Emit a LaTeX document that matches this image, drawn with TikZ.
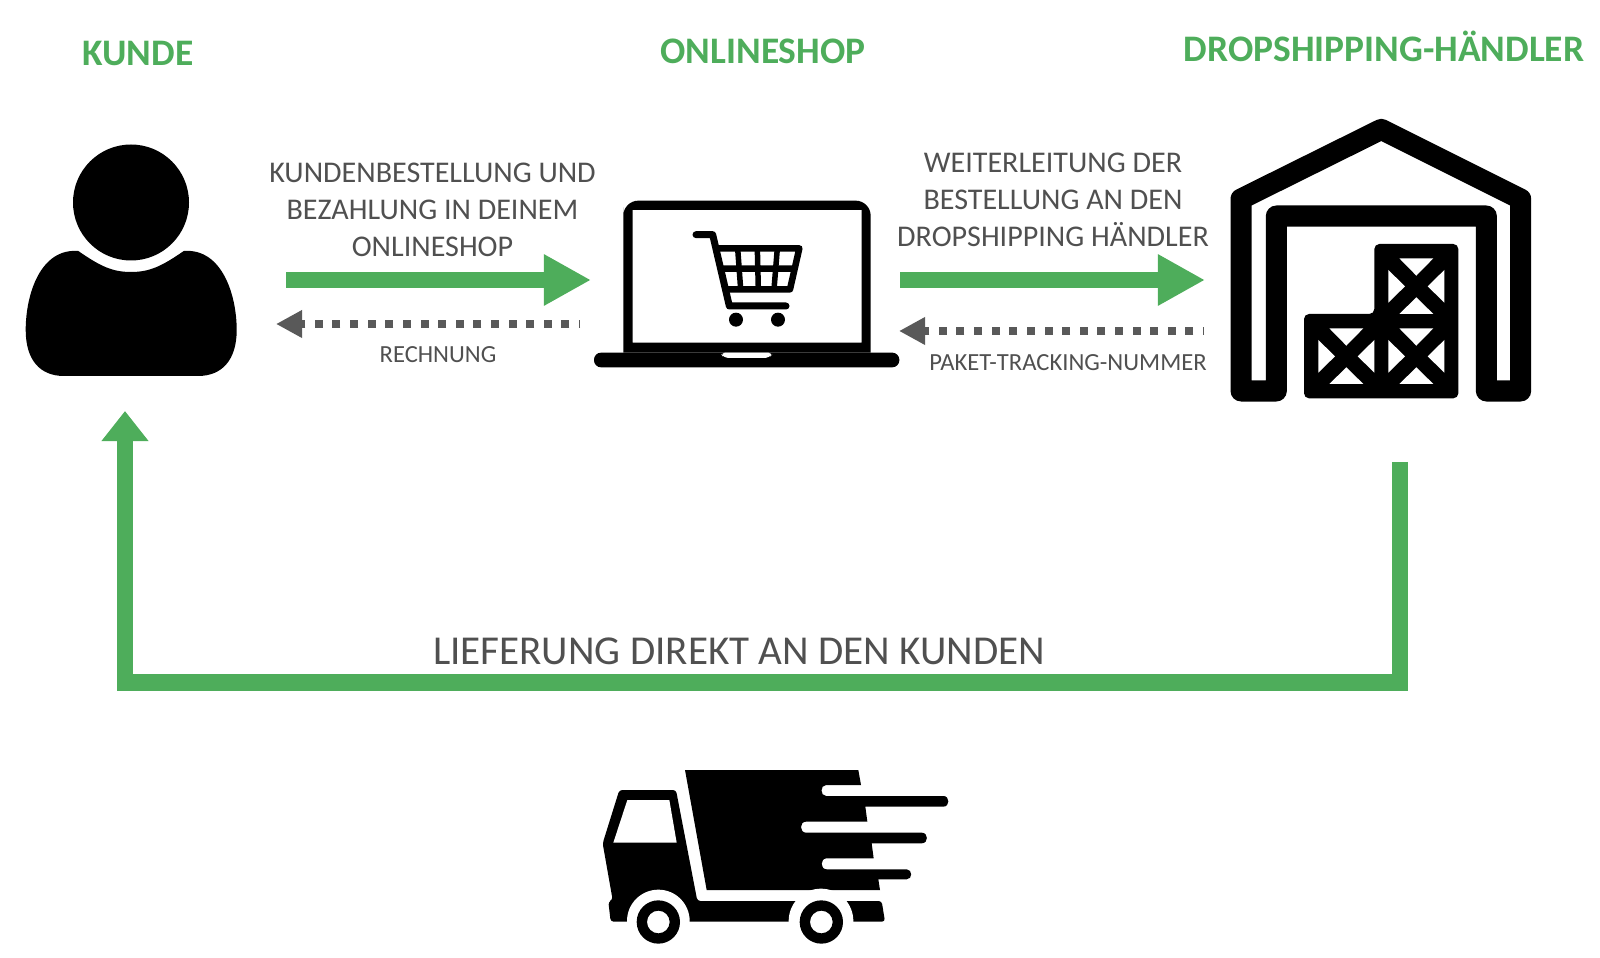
\documentclass[tikz,border=0pt]{standalone}
\usepackage{fontspec}
\setmainfont{Carlito}
\usepackage{xcolor}
\usetikzlibrary{arrows.meta}
\definecolor{shopgreen}{HTML}{4EAD5B}
\definecolor{textgrey}{HTML}{505050}
\definecolor{dotgrey}{HTML}{595959}
\tikzset{
	titel/.style={text=shopgreen, inner sep=0pt, anchor=base, font=\fontsize{10.65pt}{12pt}\selectfont\bfseries},
	beschriftung/.style={text=textgrey, inner sep=0pt, align=center, font=\fontsize{8.55pt}{10.5pt}\selectfont},
	kleintext/.style={text=textgrey, inner sep=0pt, font=\fontsize{7pt}{8pt}\selectfont},
	grosstext/.style={text=textgrey, inner sep=0pt, font=\fontsize{11.68pt}{13pt}\selectfont},
	gruenpfeil/.style={draw=shopgreen, line width=0.16cm, -{Triangle[length=0.47cm,width=0.48cm]}},
	lieferpfeil/.style={draw=shopgreen, line width=0.165cm, -{Triangle[length=0.30cm,width=0.45cm]}},
	punktpfeil/.style={draw=dotgrey, line width=0.08cm, dash pattern=on 0.08cm off 0.096cm, dash phase=0.07cm,
			-{Triangle[length=0.26cm,width=0.26cm]}},
	symbolmass/.style={scale=0.33333}
}
\begin{document}
\begin{tikzpicture}[x=0.01cm, y=-0.01cm]
  \useasboundingbox (0,0) rectangle (1600,958);

  % headings
  \node[titel] (kunde) at (138,66) {KUNDE};
  \node[titel] (onlineshop) at (763,64) {ONLINESHOP};
  \node[titel] (haendler) at (1384,62) {DROPSHIPPING-HÄNDLER};

  % person
  \fill (131,202.5) circle (58);
  \fill (78.3,251) .. controls (100,266) and (112,272) .. (131,272)
    .. controls (150,272) and (162,266) .. (183.8,251)
    .. controls (222,248) and (236.7,295) .. (236.7,330)
    .. controls (236.7,360) and (222,376) .. (198,376) -- (64,376)
    .. controls (40,376) and (25.7,360) .. (25.7,330)
    .. controls (25.7,295) and (40,248) .. (78.3,251) -- cycle;

  % laptop
  \begin{scope}[shift={(570,170)}, symbolmass]
    \fill[even odd rule] (160,548) -- (160,112) [rounded corners=1.5mm] -- (160,92) -- (902,92) [sharp corners] -- (902,548) -- cycle
      (188,120) rectangle (875,518);
    \fill[rounded corners=0.7mm] (72,548) rectangle (988,592);
    \fill[white, rounded corners=0.5mm] (450,548) -- (462,564) -- (598,564) -- (610,548) -- cycle;
    \draw[line width=0.07cm, line cap=round, line join=round] (378,194) -- (428,194) -- (478,408) -- (648,408);
    \draw[line width=0.065cm, line join=round] (440,235) -- (688,235) -- (660,358) -- (468,358)
      (452,296) -- (675,296);
    \draw[line width=0.055cm] (503,235) -- (512,358) (562,235) -- (565,358) (622,235) -- (612,358);
    \fill (498,449) circle (21) (624,449) circle (21);
  \end{scope}

  % warehouse
  \begin{scope}[shift={(1190,100)}, symbolmass]
    \draw[line width=0.21cm, line join=round] (153,873) -- (153,297) -- (574,88) -- (992,297) -- (992,873)
      -- (889,873) -- (889,348) -- (259,348) -- (259,873) -- cycle;
    \fill[rounded corners=0.5mm] (553,432) -- (805,432) -- (805,895) -- (342,895) -- (342,642) -- (553,642) -- cycle;
    \foreach \dx/\dy in {0/0,210/0,210/-210}
      \fill[white, shift={(\dx,\dy)}] (418,685) -- (520,685) -- (469,737) -- cycle
        (385,720) -- (385,818) -- (435,769) -- cycle
        (553,720) -- (553,818) -- (503,769) -- cycle
        (418,852) -- (520,852) -- (469,802) -- cycle;
  \end{scope}

  % truck
  \begin{scope}[shift={(570,740)}, symbolmass]
    \fill (345,90) -- (865,90) -- (873,135) -- (768,135) .. controls (750,135) and (750,168) .. (768,168)
      -- (1120,168) .. controls (1140,168) and (1140,200) .. (1120,200) -- (886,200) -- (892,245)
      -- (708,245) .. controls (688,245) and (688,278) .. (708,278)
      -- (1055,278) .. controls (1076,278) and (1076,310) .. (1055,310) -- (905,310) -- (911,355)
      -- (770,355) .. controls (750,355) and (750,388) .. (770,388)
      -- (1010,388) .. controls (1028,388) and (1028,418) .. (1010,418) -- (925,418) -- (930,450) -- (410,450) -- cycle;
    \fill[rounded corners=0.3mm] (148,150) -- (318,150) -- (382,483) -- (935,483) -- (945,545) -- (122,545)
      -- (115,485) -- (128,480) -- (98,310) -- cycle;
    \fill[white] (172,180) -- (298,180) -- (320,308) -- (130,308) -- cycle;
    \fill[white] (265,543) circle (94) (753,543) circle (97);
    \fill[even odd rule] (265,546) circle (65) (265,546) circle (34);
    \fill[even odd rule] (754,546) circle (65) (754,546) circle (34);
  \end{scope}

  % upper arrows
  \coordinate (bestellung) at (286,280);
  \coordinate (shoplinks) at (591,280);
  \coordinate (weiterleitung) at (900,280);
  \coordinate (lager) at (1205,280);
  \path (bestellung) edge [gruenpfeil] (shoplinks);
  \path (weiterleitung) edge [gruenpfeil] (lager);

  \coordinate (rechnungstart) at (580,324);
  \coordinate (rechnungziel) at (276,324);
  \coordinate (trackingstart) at (1204,331);
  \coordinate (trackingziel) at (899,331);
  \path (rechnungstart) edge [punktpfeil] (rechnungziel);
  \path (trackingstart) edge [punktpfeil] (trackingziel);

  % labels
  \node[beschriftung] (bestelltext) at (432.5,210) {KUNDENBESTELLUNG UND\\BEZAHLUNG IN DEINEM\\ONLINESHOP};
  \node[beschriftung] (weitertext) at (1053,199.5) {WEITERLEITUNG DER\\BESTELLUNG AN DEN\\DROPSHIPPING HÄNDLER};
  \node[kleintext] (rechnungtext) at (438,355) {RECHNUNG};
  \node[kleintext] (trackingtext) at (1068,363) {PAKET-TRACKING-NUMMER};

  % delivery
  \coordinate (versand) at (1400,462);
  \coordinate (eckerechts) at (1400,682.5);
  \coordinate (eckelinks) at (125,682.5);
  \coordinate (lieferziel) at (125,411);
  \draw[lieferpfeil] (versand) -- (eckerechts) -- (eckelinks) -- (lieferziel);
  \node[grosstext] (liefertext) at (739,651) {LIEFERUNG DIREKT AN DEN KUNDEN};

\end{tikzpicture}
\end{document}
